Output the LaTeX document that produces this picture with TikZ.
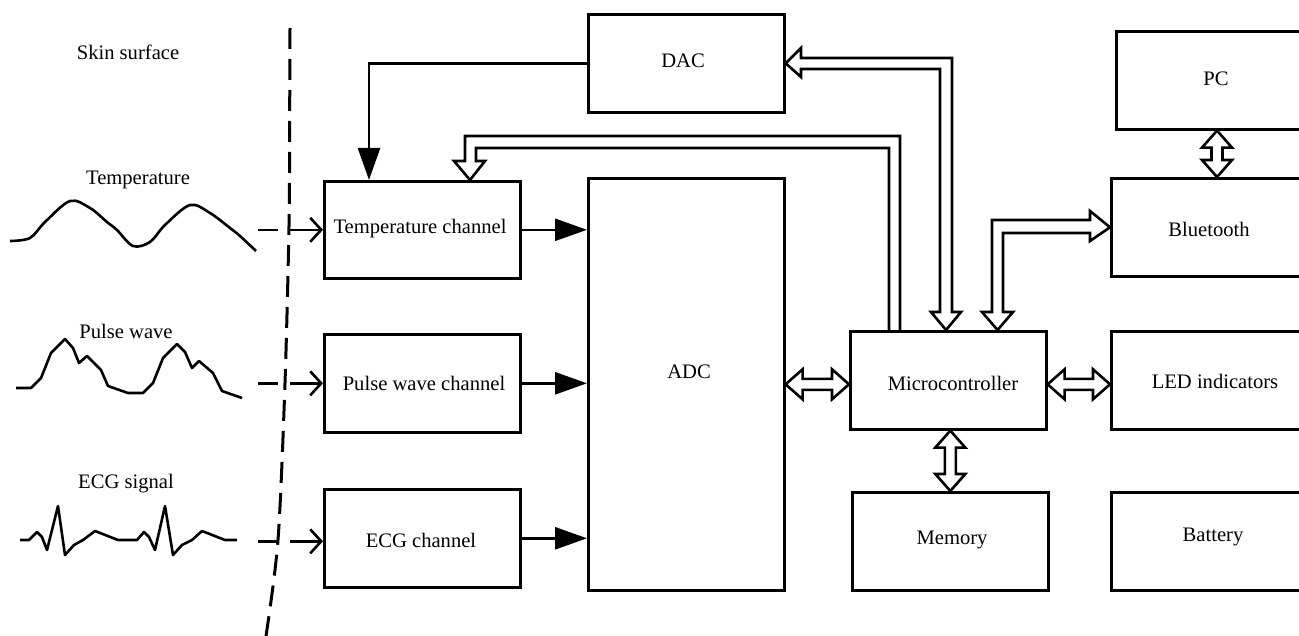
\documentclass[tikz,border=0pt]{standalone}
\usepackage{fontspec}
\setmainfont{Liberation Serif}
\usetikzlibrary{arrows.meta,calc}
\newcommand\hdarrow[2]{\path[hol] let \p1=(#1), \p2=(#2) in
 (\x1,\y1) -- (\x1+8.5pt,\y1+7.5pt) -- (\x1+8.5pt,\y1+2.75pt) -- (\x2-8.5pt,\y1+2.75pt) -- (\x2-8.5pt,\y1+7.5pt) -- (\x2,\y1)
 -- (\x2-8.5pt,\y1-7.5pt) -- (\x2-8.5pt,\y1-2.75pt) -- (\x1+8.5pt,\y1-2.75pt) -- (\x1+8.5pt,\y1-7.5pt) -- cycle;}
\newcommand\vdarrow[2]{\path[hol] let \p1=(#1), \p2=(#2) in
 (\x1,\y1) -- (\x1+7.5pt,\y1-8.5pt) -- (\x1+2.75pt,\y1-8.5pt) -- (\x1+2.75pt,\y2+8.5pt) -- (\x1+7.5pt,\y2+8.5pt) -- (\x1,\y2)
 -- (\x1-7.5pt,\y2+8.5pt) -- (\x1-2.75pt,\y2+8.5pt) -- (\x1-2.75pt,\y1-8.5pt) -- (\x1-7.5pt,\y1-8.5pt) -- cycle;}
\begin{document}
\begin{tikzpicture}[x=0.5pt,y=-0.5pt, line width=1.3pt, font=\fontsize{10.3}{12}\selectfont,
 box/.style={draw, line width=1.3pt, anchor=north west, minimum width=98pt, minimum height=49pt, inner sep=0pt},
 widebox/.style={box, minimum width=110pt},
 hol/.style={draw, fill=white, line width=1.3pt, line join=miter},
 sig/.style={line width=1.3pt, line join=round},
 solidarr/.style={-{Triangle[length=16pt,width=11pt]}},
 dasharr/.style={dash pattern=on 10pt off 6pt on 24pt off 10pt, -{Straight Barb[length=5.5pt,width=12pt]}},
 skin/.style={line width=1.5pt, dash pattern=on 10.5pt off 5pt}
]
\useasboundingbox (0,0) rectangle (1299,636);
\clip (0,0) rectangle (1299,636);

% boxes
\node[box] (dac) at (587,13) {};
\node[widebox] (pc) at (1115,30) {};
\node[box, minimum height=48.5pt] (tc) at (323,180) {};
\node[box] (pw) at (323,333) {};
\node[box] (ecg) at (323,488) {};
\node[box, minimum height=206pt] (adc) at (587,177) {};
\node[box] (mcu) at (849,330) {};
\node[box] (mem) at (851,491) {};
\node[widebox] (bt) at (1110,177) {};
\node[widebox] (led) at (1110,330) {};
\node[widebox] (bat) at (1110,491) {};

% box texts
\node (tdac) at (683,61) {DAC};
\node (tpc) at (1216,79) {PC};
\node (ttc) at (420,229) {Temperature channel};
\node (tpw) at (424,383) {Pulse wave channel};
\node (tecg) at (421,540) {ECG channel};
\node (tadc) at (689,372) {ADC};
\node (tmcu) at (953,383) {Microcontroller};
\node (tmem) at (952,540) {Memory};
\node (tbt) at (1209,229) {Bluetooth};
\node (tled) at (1215,381) {LED indicators};
\node (tbat) at (1213,537) {Battery};

% left labels
\node (lskin) at (128,52) {Skin surface};
\node (ltemp) at (138,180) {Temperature};
\node (lpulse) at (126,331) {Pulse wave};
\node (lecg) at (126,484) {ECG signal};

% signals
\draw[sig] plot[smooth, tension=0.55] coordinates {(10,241) (30,238) (45,222) (70,201) (90,208) (107,222) (117,230) (133,246) (150,242) (165,225) (190,205) (210,213) (230,228) (240,236) (256,251)};
\draw[sig] (16,388) -- (31,388) -- (41,378) -- (51,353) -- (65,339) -- (73,348) -- (79,363) -- (87,356) -- (101,370) -- (108,386) -- (128,393) -- (143,393) -- (153,383) -- (163,358) -- (177,344) -- (185,352) -- (192,368) -- (199,361) -- (213,373) -- (222,391) -- (242,398);
\draw[sig] (20,540) -- (29,540) -- (37,532) -- (42,537) -- (47,550) -- (58,506) -- (65,555) -- (74,545) -- (83,540) -- (95,531) -- (118,540) -- (137,540) -- (144,532) -- (149,537) -- (155,550) -- (165,506) -- (173,555) -- (182,545) -- (192,540) -- (202,531) -- (225,540) -- (237,540);

% skin surface line
\draw[skin] plot[smooth] coordinates {(290,28) (289.6,130) (289,226) (285,383) (278,540) (266,636)};

% dashed inputs
\draw[dasharr] ($(tc.west)+(-65,0)$) -- (tc.west);
\draw[dasharr] ($(pw.west)+(-65,0)$) -- (pw.west);
\draw[dasharr] ($(ecg.west)+(-65,3)$) -- ($(ecg.west)+(0,3)$);

% channel -> ADC
\draw[solidarr] (tc.east) -- (tc.east -| adc.west);
\draw[solidarr] (pw.east) -- (pw.east -| adc.west);
\draw[solidarr] (ecg.east) -- (ecg.east -| adc.west);

% DAC -> temperature channel
\draw[solidarr] (dac.west) -| ($(tc.north west)+(46,0)$);

% MCU -> temperature channel (hollow bus)
\draw[hol, fill=none] (900,330) -- (900,136) -- (465,136) -- (465,161) -- (454,161) -- ($(tc.north west)+(147,0)$) -- (485,161) -- (476,161) -- (476,148) -- (889,148) -- (889,330);

% MCU <-> DAC
\draw[hol] (952,312) -- (952,58) -- (801,58) -- (801,48) -- (dac.east) -- (801,77) -- (801,69) -- (940,69) -- (940,312) -- (931,312) -- ($(mcu.north west)+(97,0)$) -- (961,312) -- cycle;

% MCU <-> Bluetooth
\draw[hol] (992,312) -- (992,220) -- (1090,220) -- (1090,211) -- (bt.west) -- (1090,241) -- (1090,233) -- (1003,233) -- (1003,312) -- (1013,312) -- ($(mcu.north west)+(148.5,0)$) -- (982,312) -- cycle;

% straight double arrows
\hdarrow{adc.east}{mcu.west}
\hdarrow{$(mcu.east)+(0,4)$}{led.west}
\vdarrow{mem.north |- mcu.south}{mem.north}
\vdarrow{$(pc.south west)+(102,0)$}{bt.north}
\end{tikzpicture}
\end{document}
